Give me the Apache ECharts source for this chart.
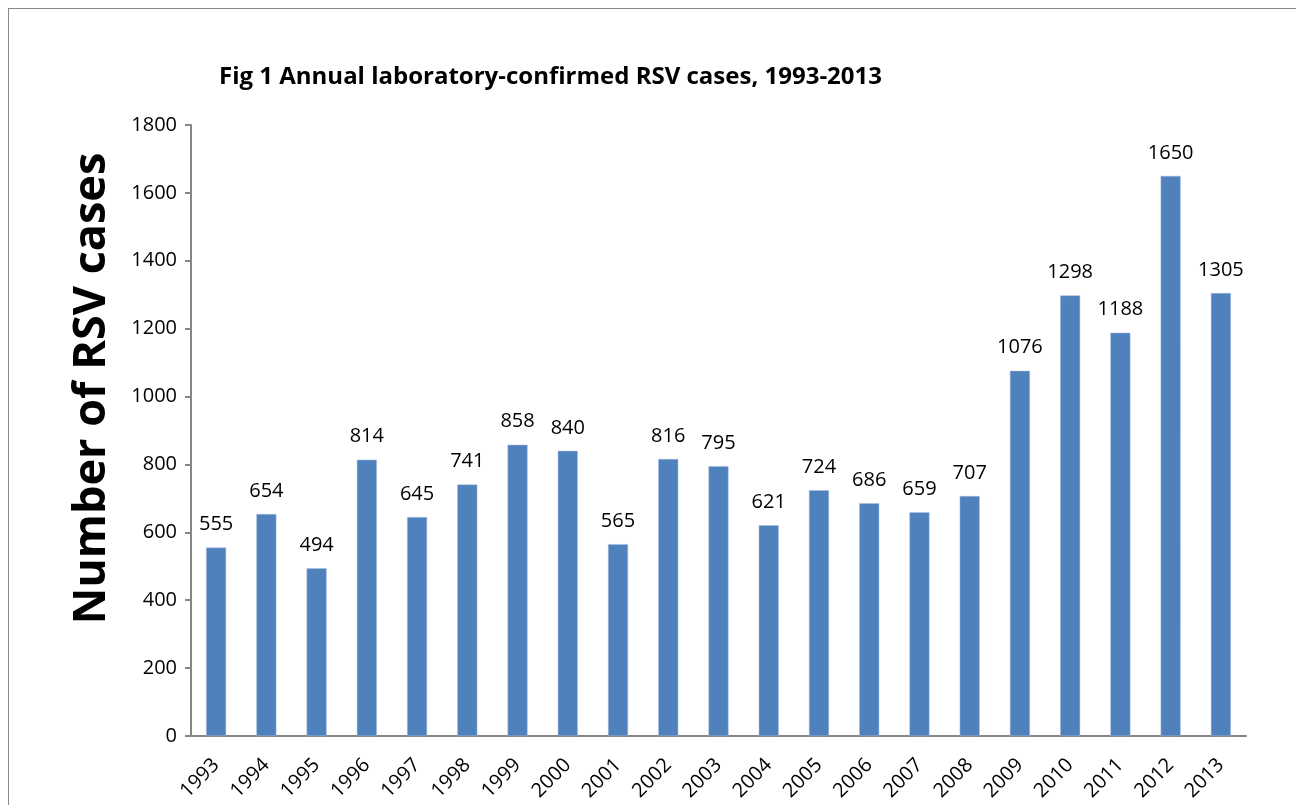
<!DOCTYPE html>
<html>
<head>
<meta charset="utf-8">
<script src="https://cdn.jsdelivr.net/npm/echarts@6/dist/echarts.min.js"></script>
<style>
  html, body { margin: 0; padding: 0; background: #fff; }
  #frame { position: absolute; left: 8px; top: 8px; width: 1400px; height: 900px;
           border-left: 1px solid #898989; border-top: 1px solid #898989; }
  #visualisation { position: absolute; left: 0; top: 0; width: 1296px; height: 805px; }
</style>
</head>
<body>
<div id="frame"></div>
<div id="visualisation"></div>
<script>
const years = ['1993', '1994', '1995', '1996', '1997', '1998', '1999', '2000', '2001', '2002', '2003',
  '2004', '2005', '2006', '2007', '2008', '2009', '2010', '2011', '2012', '2013'];
const cases = [555, 654, 494, 814, 645, 741, 858, 840, 565, 816, 795,
  621, 724, 686, 659, 707, 1076, 1298, 1188, 1650, 1305];

function drawVisualisation() {
  let visualisation = echarts.init(document.getElementById('visualisation'));
  const font = 'Open Sans, sans-serif';
  const axisColor = '#868686';

  let option = {
    animation: false,
    title: {
      text: 'Fig 1 Annual laboratory-confirmed RSV cases, 1993-2013',
      left: 214, top: 60,
      textStyle: { fontFamily: font, fontSize: 24, fontWeight: 'bold', color: '#000' }
    },
    grid: { left: 191, right: 50, top: 125, bottom: 69 },
    xAxis: {
      type: 'category',
      data: years,
      axisLine: { lineStyle: { color: axisColor, width: 2 } },
      axisTick: { length: 7, lineStyle: { color: axisColor, width: 2 } },
      axisLabel: { rotate: 45, fontFamily: font, fontSize: 20, color: '#000', margin: 26 }
    },
    yAxis: {
      type: 'value',
      min: 0, max: 1800, interval: 200,
      name: 'Number of RSV cases',
      nameLocation: 'middle',
      nameGap: 76,
      nameTextStyle: { fontFamily: font, fontSize: 45, fontWeight: 'bold', color: '#000', padding: [0, 0, 0, 84] },
      splitLine: { show: false },
      axisLine: { show: true, lineStyle: { color: axisColor, width: 2 } },
      axisTick: { show: true, length: 6, lineStyle: { color: axisColor, width: 2 } },
      axisLabel: { fontFamily: font, fontSize: 20, color: '#000', margin: 14, formatter: v => String(v) }
    },
    series: [{
      type: 'bar',
      data: cases,
      barWidth: 20,
      itemStyle: { color: '#4F81BD', borderColor: '#A7BFDE', borderWidth: 0.5 },
      label: { show: true, position: 'top', distance: 13, fontFamily: font, fontSize: 20, color: '#000' }
    }]
  };
  visualisation.setOption(option);
}

window.addEventListener('load', drawVisualisation);
</script>
</body>
</html>
